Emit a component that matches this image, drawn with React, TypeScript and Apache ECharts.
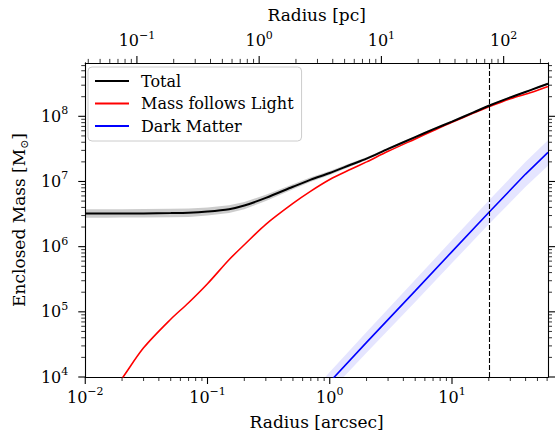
import React, { useEffect, useRef } from "react";
import * as echarts from "echarts";

const FONT = "DejaVu Serif";

// Axis ranges
const X_MIN = 0.01;
const X_MAX = 61;
const PC_PER_ARCSEC = 3.78;
const Y_MIN = 1e4;
const Y_MAX = 6.6e8;
const R_MARK = 20;

// Radius grid [arcsec]
const RADIUS = [0.01, 0.015, 0.02, 0.03, 0.05, 0.07, 0.1, 0.15, 0.2, 0.3, 0.5, 0.7, 1, 1.5, 2, 3, 5, 7, 10, 15, 20, 30, 45, 61];

// Total enclosed mass and its band
const TOTAL = [3.22e6, 3.22e6, 3.23e6, 3.24e6, 3.27e6, 3.31e6, 3.45e6, 3.75e6, 4.27e6, 5.6e6, 8.3e6, 1.07e7, 1.35e7, 1.82e7, 2.24e7, 3.16e7, 4.8e7, 6.3e7, 8.3e7, 1.15e8, 1.45e8, 1.95e8, 2.57e8, 3.16e8];
const TOTAL_HI = [3.75e6, 3.75e6, 3.76e6, 3.77e6, 3.8e6, 3.85e6, 3.98e6, 4.3e6, 4.85e6, 6.25e6, 9.1e6, 1.16e7, 1.45e7, 1.93e7, 2.36e7, 3.3e7, 5.0e7, 6.55e7, 8.6e7, 1.19e8, 1.5e8, 2.01e8, 2.65e8, 3.26e8];
const TOTAL_LO = [2.78e6, 2.78e6, 2.79e6, 2.8e6, 2.82e6, 2.86e6, 3.0e6, 3.28e6, 3.76e6, 5.02e6, 7.6e6, 9.9e6, 1.26e7, 1.72e7, 2.13e7, 3.03e7, 4.6e7, 6.06e7, 8.0e7, 1.11e8, 1.4e8, 1.89e8, 2.49e8, 3.06e8];

// Mass follows light
const MFL = [1.6e3, 4.6e3, 9.5e3, 2.8e4, 7.7e4, 1.38e5, 2.7e5, 6.3e5, 1.07e6, 2.2e6, 4.6e6, 7.1e6, 1.07e7, 1.55e7, 2.0e7, 2.9e7, 4.5e7, 6.0e7, 8.1e7, 1.12e8, 1.4e8, 1.86e8, 2.34e8, 2.86e8];

// Dark matter
const RADIUS_DM = [0.8, 1, 2, 5, 10, 20, 40, 61];
const DM = [5.3e3, 8.4e3, 3.4e4, 2.1e5, 8.4e5, 3.35e6, 1.3e7, 2.8e7];
const DM_HI = [7.5e3, 1.19e4, 4.9e4, 3.1e5, 1.26e6, 5.1e6, 2.0e7, 4.3e7];
const DM_LO = [3.75e3, 5.95e3, 2.35e4, 1.42e5, 5.6e5, 2.2e6, 8.3e6, 1.75e7];

const SERIES_NAMES = ["Total", "Mass follows Light", "Dark Matter"];

function logTicks(min: number, max: number) {
  const out: number[][] = [];
  const d0 = Math.floor(Math.log10(min));
  const d1 = Math.ceil(Math.log10(max));
  for (let d = d0; d <= d1; d++) {
    for (let k = 1; k <= 9; k++) {
      const v = k * Math.pow(10, d);
      if (v >= min * (1 - 1e-9) && v <= max * (1 + 1e-9)) out.push([v, k === 1 ? 1 : 0]);
    }
  }
  return out;
}

const powLabel = (v: number) => {
  const e = Math.log10(v);
  const r = Math.round(e);
  if (Math.abs(e - r) > 1e-6) return "";
  return `{b|10}{s|${r < 0 ? "\u2212" + -r : r}}`;
};

const labelRich = {
  b: { fontSize: 16, fontFamily: FONT, color: "#000", lineHeight: 22 },
  s: { fontSize: 11, fontFamily: FONT, color: "#000", lineHeight: 6, verticalAlign: "top" },
};

type Side = "bottom" | "top" | "left" | "right";

function tickSeries(side: Side, ticks: number[][]) {
  const isX = side === "bottom" || side === "top";
  return {
    type: "custom",
    xAxisIndex: side === "top" ? 1 : 0,
    yAxisIndex: 0,
    silent: true,
    clip: false,
    z: 10,
    data: ticks.map((t) => (isX ? [t[0], 1e6, t[1]] : [1, t[0], t[1]])),
    renderItem: (params: any, api: any) => {
      const cs = params.coordSys;
      const major = api.value(2) === 1;
      const len = major ? 7 : 4;
      const p = api.coord([api.value(0), api.value(1)]);
      let shape;
      if (side === "bottom") {
        const y = cs.y + cs.height;
        shape = { x1: p[0], y1: y, x2: p[0], y2: y + len };
      } else if (side === "top") {
        shape = { x1: p[0], y1: cs.y, x2: p[0], y2: cs.y - len };
      } else if (side === "left") {
        shape = { x1: cs.x, y1: p[1], x2: cs.x - len, y2: p[1] };
      } else {
        const x = cs.x + cs.width;
        shape = { x1: x, y1: p[1], x2: x + len, y2: p[1] };
      }
      return { type: "line", shape, style: { stroke: "#000", lineWidth: major ? 1.1 : 0.8 } };
    },
  };
}

function bandSeries(xs: number[], lo: number[], hi: number[], color: string) {
  return {
    type: "custom",
    silent: true,
    clip: true,
    z: 1,
    data: [[xs[0], hi[0]]],
    renderItem: (params: any, api: any) => {
      const cs = params.coordSys;
      const top: number[][] = [];
      const bot: number[][] = [];
      for (let i = 0; i < xs.length; i++) top.push(api.coord([xs[i], hi[i]]));
      for (let i = xs.length - 1; i >= 0; i--) bot.push(api.coord([xs[i], lo[i]]));
      return {
        type: "group",
        clipPath: { type: "rect", shape: { x: cs.x, y: cs.y, width: cs.width, height: cs.height } },
        children: [
          {
            type: "polygon",
            shape: { points: top.concat(bot) },
            style: { fill: color },
          },
        ],
      };
    },
  };
}

const axisLineStyle = { show: true, onZero: false, lineStyle: { color: "#000", width: 1.1 } };

const lineCommon = {
  type: "line",
  symbol: "none",
  smooth: 0.3,
  clip: true,
};

const nameStyle = { fontFamily: FONT, fontSize: 17, color: "#000", lineHeight: 20 };

const option: any = {
  animation: false,
  backgroundColor: "#fff",
  grid: { left: 82, right: 12, top: 60, bottom: 58 },
  legend: {
    orient: "vertical",
    left: 88,
    top: 67,
    data: SERIES_NAMES,
    icon: "rect",
    itemWidth: 34,
    itemHeight: 2,
    itemGap: 4.5,
    padding: [5, 8, 6, 7],
    borderColor: "#cccccc",
    borderWidth: 1,
    borderRadius: 4,
    backgroundColor: "rgba(255,255,255,0.8)",
    selectedMode: false,
    textStyle: { fontFamily: FONT, fontSize: 16, color: "#000", lineHeight: 18, padding: [0, 0, 0, 7] },
  },
  xAxis: [
    {
      type: "log",
      logBase: 10,
      min: X_MIN,
      max: X_MAX,
      position: "bottom",
      axisLine: axisLineStyle,
      axisTick: { show: false },
      splitLine: { show: false },
      axisLabel: { formatter: powLabel, rich: labelRich, margin: 9, showMaxLabel: false },
      name: "Radius [arcsec]",
      nameLocation: "middle",
      nameGap: 35,
      nameTextStyle: nameStyle,
    },
    {
      type: "log",
      logBase: 10,
      min: X_MIN * PC_PER_ARCSEC,
      max: X_MAX * PC_PER_ARCSEC,
      position: "top",
      axisLine: axisLineStyle,
      axisTick: { show: false },
      splitLine: { show: false },
      axisLabel: { formatter: powLabel, rich: labelRich, margin: 11 },
      name: "Radius [pc]",
      nameLocation: "middle",
      nameGap: 36,
      nameTextStyle: nameStyle,
    },
  ],
  yAxis: [
    {
      type: "log",
      logBase: 10,
      min: Y_MIN,
      max: Y_MAX,
      position: "left",
      axisLine: axisLineStyle,
      axisTick: { show: false },
      splitLine: { show: false },
      axisLabel: { formatter: powLabel, rich: labelRich, margin: 17 },
      name: "Enclosed Mass [M{sub|\u2299}]",
      nameLocation: "middle",
      nameRotate: 90,
      nameGap: 48,
      nameTextStyle: {
        fontFamily: FONT,
        fontSize: 17,
        color: "#000",
        lineHeight: 22,
        rich: { sub: { fontFamily: FONT, fontSize: 11, color: "#000", lineHeight: 10, verticalAlign: "bottom" } },
      },
    },
    {
      type: "log",
      logBase: 10,
      min: Y_MIN,
      max: Y_MAX,
      position: "right",
      axisLine: axisLineStyle,
      axisTick: { show: false },
      splitLine: { show: false },
      axisLabel: { show: false },
    },
  ],
  series: [
    bandSeries(RADIUS, TOTAL_LO, TOTAL_HI, "rgba(0,0,0,0.2)"),
    bandSeries(RADIUS_DM, DM_LO, DM_HI, "rgba(0,0,255,0.1)"),
    {
      ...lineCommon,
      name: SERIES_NAMES[0],
      data: RADIUS.map((r, i) => [r, TOTAL[i]]),
      color: "#000000",
      lineStyle: { color: "#000000", width: 2 },
      z: 4,
      markLine: {
        silent: true,
        symbol: ["none", "none"],
        label: { show: false },
        lineStyle: { color: "#000", width: 1.1, type: [5, 2] },
        data: [{ xAxis: R_MARK }],
      },
    },
    {
      ...lineCommon,
      name: SERIES_NAMES[1],
      data: RADIUS.map((r, i) => [r, MFL[i]]),
      color: "#ff0000",
      lineStyle: { color: "#ff0000", width: 1.6 },
      z: 3,
    },
    {
      ...lineCommon,
      smooth: false,
      name: SERIES_NAMES[2],
      data: RADIUS_DM.map((r, i) => [r, DM[i]]),
      color: "#0000ff",
      lineStyle: { color: "#0000ff", width: 1.6 },
      z: 3,
    },
    tickSeries("bottom", logTicks(X_MIN, X_MAX)),
    tickSeries("top", logTicks(X_MIN * PC_PER_ARCSEC, X_MAX * PC_PER_ARCSEC)),
    tickSeries("left", logTicks(Y_MIN, Y_MAX)),
    tickSeries("right", logTicks(Y_MIN, Y_MAX)),
  ],
};

export default function App() {
  const ref = useRef<HTMLDivElement>(null);
  useEffect(() => {
    const chart = echarts.init(ref.current!, null, { renderer: "svg" });
    chart.setOption(option);
    return () => chart.dispose();
  }, []);
  return (
    <div
      ref={ref}
      style={{ position: "fixed", left: 0, top: 0, width: 560, height: 437, background: "#fff" }}
    />
  );
}
